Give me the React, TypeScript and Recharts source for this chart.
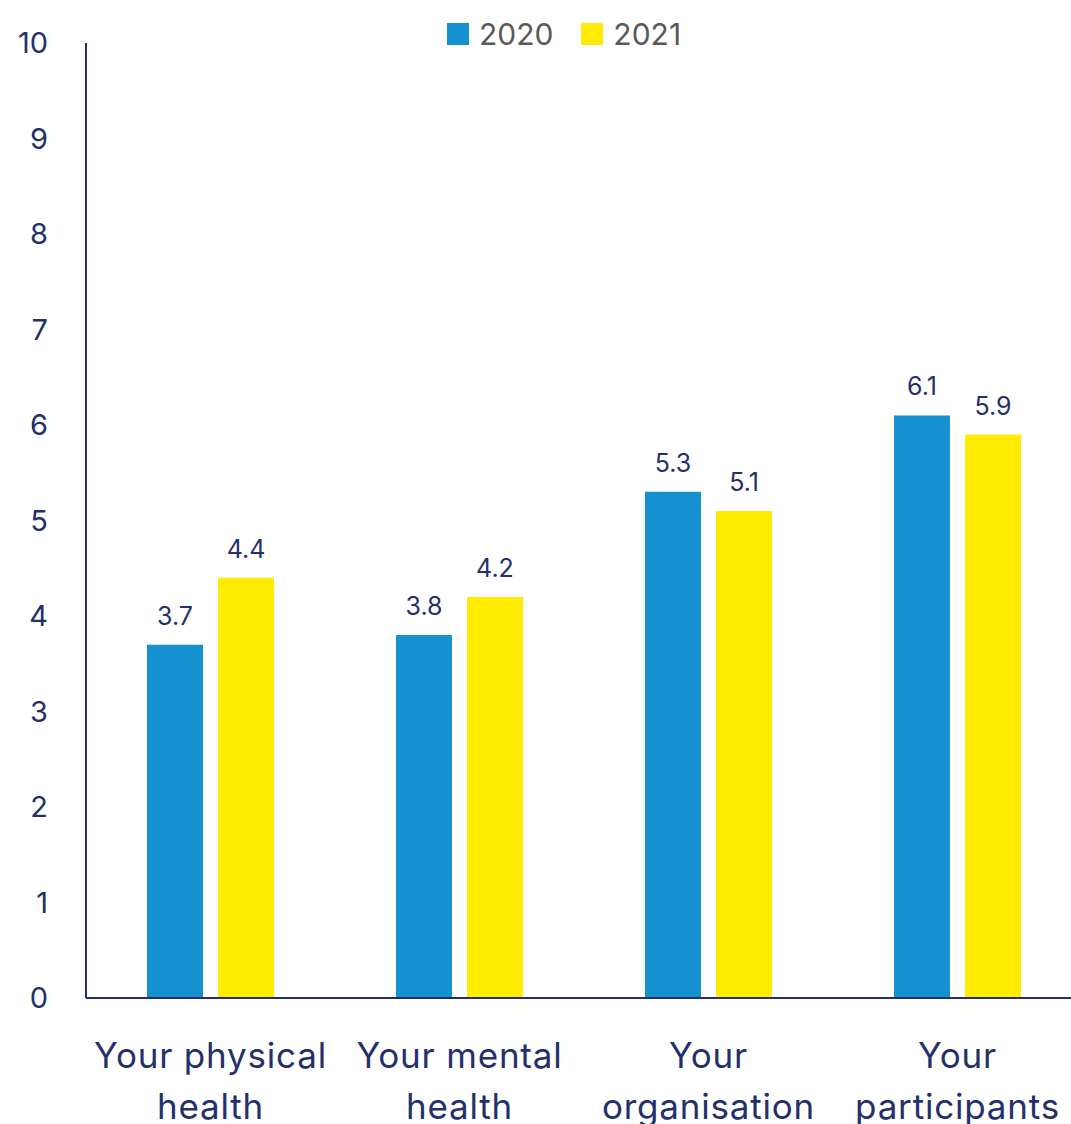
import { BarChart, Bar, XAxis, YAxis, LabelList } from 'recharts';

const categories = ['Your physical health', 'Your mental health', 'Your organisation', 'Your participants'];
const tickLines = [
  ['Your physical', 'health'],
  ['Your mental', 'health'],
  ['Your', 'organisation'],
  ['Your', 'participants'],
];
const values2020 = [3.7, 3.8, 5.3, 6.1];
const values2021 = [4.4, 4.2, 5.1, 5.9];
const yTicks = [0, 1, 2, 3, 4, 5, 6, 7, 8, 9, 10];

const NAVY = '#24306b';
const BLUE = '#1591d0';
const YELLOW = '#ffec00';
const FONT = 'Inter, "Open Sans", sans-serif';

const data = categories.map((name, i) => ({
  name,
  y2020: values2020[i],
  y2021: values2021[i],
}));

const CategoryTick = ({ x, y, payload, index }: any) => {
  const lines = tickLines[index] || [payload.value];
  return (
    <text x={x} y={y} textAnchor="middle" fill={NAVY} fontSize={35} fontFamily={FONT} letterSpacing={0.8}>
      {lines.map((l: string, i: number) => (
        <tspan key={i} x={x} dy={i === 0 ? 62 : 51}>
          {l}
        </tspan>
      ))}
    </text>
  );
};

const LegendContent = () => (
  <div style={{ display: 'flex', justifyContent: 'center', gap: 28, fontFamily: FONT, fontSize: 30, color: '#595959' }}>
    {[
      { label: '2020', color: BLUE },
      { label: '2021', color: YELLOW },
    ].map((it) => (
      <div key={it.label} style={{ display: 'flex', alignItems: 'center' }}>
        <span style={{ display: 'inline-block', width: 22, height: 22, background: it.color, marginRight: 10 }} />
        <span>{it.label}</span>
      </div>
    ))}
  </div>
);

export default function App() {
  return (
    <div style={{ position: 'absolute', left: 0, top: 0, width: 1071, height: 1124, overflow: 'hidden', background: '#fff' }}>
      <BarChart
        width={1090}
        height={1124}
        data={data}
        margin={{ top: 43, right: 8, left: 0, bottom: 0 }}
        barSize={56}
        barGap={15}
      >
        <XAxis
          dataKey="name"
          axisLine={{ stroke: NAVY, strokeWidth: 2 }}
          tickLine={false}
          height={126}
          interval={0}
          tick={<CategoryTick />}
        />
        <YAxis
          domain={[0, 10]}
          ticks={yTicks}
          width={86}
          axisLine={{ stroke: NAVY, strokeWidth: 2 }}
          tickLine={false}
          tickSize={0}
          tickMargin={38}
          tick={{ fill: NAVY, fontSize: 29, fontFamily: FONT }}
          interval={0}
        />
        <Bar dataKey="y2020" name="2020" fill={BLUE} isAnimationActive={false}>
          <LabelList dataKey="y2020" position="top" offset={20} fill={NAVY} fontSize={25} fontFamily={FONT} />
        </Bar>
        <Bar dataKey="y2021" name="2021" fill={YELLOW} isAnimationActive={false}>
          <LabelList dataKey="y2021" position="top" offset={20} fill={NAVY} fontSize={25} fontFamily={FONT} />
        </Bar>
      </BarChart>
      <div style={{ position: 'absolute', left: 0, top: 16, width: 1128 }}>
        <LegendContent />
      </div>
    </div>
  );
}
